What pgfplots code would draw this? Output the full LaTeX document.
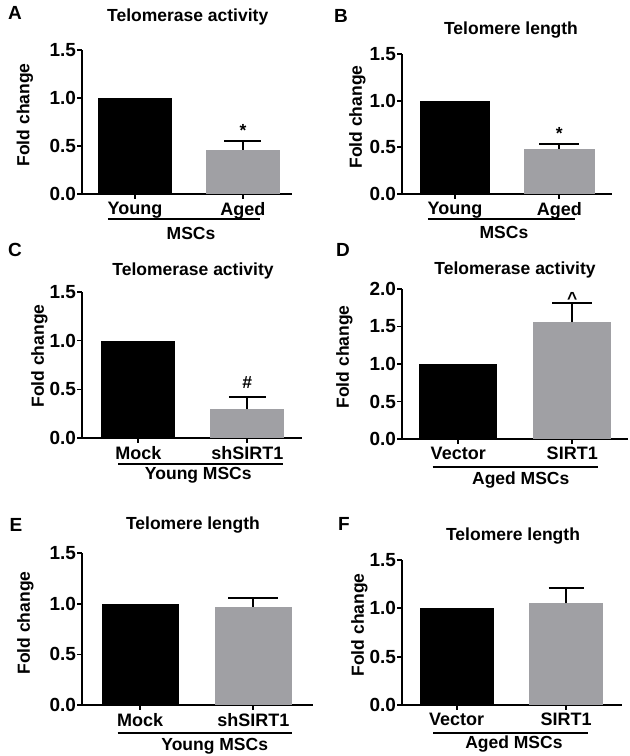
\documentclass[border=0pt]{standalone}
\usepackage{fontspec}
\setmainfont{Liberation Sans}
\usepackage{pgfplots}
\pgfplotsset{compat=1.18}
\definecolor{gbar}{RGB}{160,160,164}
\newcommand{\tf}{\bfseries\fontsize{17.5}{20}\selectfont}
\newcommand{\nf}{\bfseries\fontsize{19}{22}\selectfont}
\newcommand{\cf}{\bfseries\fontsize{18}{21}\selectfont}
\newcommand{\lf}{\bfseries\fontsize{19}{22}\selectfont}
\pgfplotsset{
  every axis title/.style={font=\tf, anchor=center},
  panel/.style={
    scale only axis, clip=false, anchor=south west,
    axis x line*=bottom, axis y line*=left,
    axis line style={line width=1.8pt, black},
    major tick style={line width=1.8pt, black},
    major tick length=4.5pt, tick align=outside,
    xtick={0,1}, ymin=0,
    /pgf/number format/assume math mode=true,
    yticklabel style={/pgf/number format/fixed, /pgf/number format/fixed zerofill, /pgf/number format/precision=1, font=\nf, inner sep=1pt},
    xticklabel style={font=\cf},
    ylabel style={font=\tf, anchor=center},
    xlabel style={font=\tf, anchor=center},
    bar width=0.68,
  },
  blackbar/.style={ybar, fill=black, draw=none},
  graybar/.style={ybar, fill=gbar, draw=none, error bars/.cd, y dir=plus, y explicit,
    error bar style={line width=1.8pt, black},
    error mark options={rotate=90, mark size=#1, line width=1.8pt, black}},
}
\begin{document}
\begin{tikzpicture}
\path[use as bounding box] (0,0) rectangle (630pt,-756pt);
% Panel A
\begin{axis}[panel, at={(81.7pt,-194pt)}, width=210pt, height=144pt,
  xmin=-0.493, xmax=1.451, ymax=1.5, ytick={0,0.5,1,1.5}, xticklabels={Young,Aged},
  title={Telomerase activity}, title style={at={(0.5048,1.229)}},
  ylabel={Fold change}, ylabel style={at={(-0.27,0.549)}},
  xlabel={MSCs}, xlabel style={at={(0.5205,-0.271)}}]
\addplot[blackbar] coordinates {(0,1)};
\addplot[graybar=18.5pt] coordinates {(1,0.46) +- (0,0.092)};
\draw[line width=1.8pt] (axis description cs:0.125,-0.1757) -- (axis description cs:0.849,-0.1757);
\node[font=\tf, anchor=base] at (axis cs:1,0.594) {*};
\end{axis}
% Panel B
\begin{axis}[panel, at={(401.7pt,-194pt)}, width=210pt, height=140pt,
  xmin=-0.511, xmax=1.502, ymax=1.5, ytick={0,0.5,1,1.5}, xticklabels={Young,Aged},
  title={Telomere length}, title style={at={(0.5205,1.171)}},
  ylabel={Fold change}, ylabel style={at={(-0.2105,0.55)}},
  xlabel={MSCs}, xlabel style={at={(0.487,-0.275)}}]
\addplot[blackbar] coordinates {(0,1)};
\addplot[graybar=20pt] coordinates {(1,0.482) +- (0,0.05)};
\draw[line width=1.8pt] (axis description cs:0.125,-0.1807) -- (axis description cs:0.825,-0.1807);
\node[font=\tf, anchor=base] at (axis cs:1,0.579) {*};
\end{axis}
% Panel C
\begin{axis}[panel, at={(81.7pt,-438.3pt)}, width=220pt, height=146.6pt,
  xmin=-0.519, xmax=1.499, ymax=1.5, ytick={0,0.5,1,1.5}, xticklabels={Mock,shSIRT1},
  title={Telomerase activity}, title style={at={(0.506,1.141)}},
  ylabel={Fold change}, ylabel style={at={(-0.192,0.561)}},
  xlabel={Young MSCs}, xlabel style={at={(0.53,-0.252)}}]
\addplot[blackbar] coordinates {(0,1)};
\addplot[graybar=18.5pt] coordinates {(1,0.297) +- (0,0.122)};
\draw[line width=1.8pt] (axis description cs:0.166,-0.1774) -- (axis description cs:0.916,-0.1774);
\node[font=\tf, anchor=base] at (axis cs:1,0.511) {\#};
\end{axis}
% Panel D
\begin{axis}[panel, at={(401.7pt,-439pt)}, width=226.3pt, height=150pt,
  xmin=-0.496, xmax=1.489, ymax=2, ytick={0,0.5,1,1.5,2}, xticklabels={Vector,SIRT1},
  title={Telomerase activity}, title style={at={(0.5007,1.13)}},
  ylabel={Fold change}, ylabel style={at={(-0.2528,0.547)}},
  xlabel={Aged MSCs}, xlabel style={at={(0.526,-0.273)}}]
\addplot[blackbar] coordinates {(0,1)};
\addplot[graybar=20pt] coordinates {(1,1.556) +- (0,0.254)};
\draw[line width=1.8pt] (axis description cs:0.137,-0.1847) -- (axis description cs:0.869,-0.1847);
\node[font=\tf, anchor=base] at (axis cs:1,1.80) {\textasciicircum};
\end{axis}
% Panel E
\begin{axis}[panel, at={(81.7pt,-705pt)}, width=231.3pt, height=151.7pt,
  xmin=-0.515, xmax=1.527, ymax=1.5, ytick={0,0.5,1,1.5}, xticklabels={Mock,shSIRT1},
  title={Telomere length}, title style={at={(0.481,1.187)}},
  ylabel={Fold change}, ylabel style={at={(-0.243,0.5405)}},
  xlabel={Young MSCs}, xlabel style={at={(0.575,-0.2736)}}]
\addplot[blackbar] coordinates {(0,1)};
\addplot[graybar=25pt] coordinates {(1,0.972) +- (0,0.083)};
\draw[line width=1.8pt] (axis description cs:0.1556,-0.1826) -- (axis description cs:0.908,-0.1826);
\end{axis}
% Panel F
\begin{axis}[panel, at={(401.7pt,-705pt)}, width=220pt, height=145pt,
  xmin=-0.503, xmax=1.509, ymax=1.5, ytick={0,0.5,1,1.5}, xticklabels={Vector,SIRT1},
  title={Telomere length}, title style={at={(0.506,1.1655)}},
  ylabel={Fold change}, ylabel style={at={(-0.192,0.552)}},
  xlabel={Aged MSCs}, xlabel style={at={(0.51,-0.269)}}]
\addplot[blackbar] coordinates {(0,1)};
\addplot[graybar=17.5pt] coordinates {(1,1.052) +- (0,0.155)};
\draw[line width=1.8pt] (axis description cs:0.1436,-0.191) -- (axis description cs:0.848,-0.191);
\end{axis}
\node[font=\lf] at (15pt,-13pt) {A};
\node[font=\lf] at (341pt,-16pt) {B};
\node[font=\lf] at (15pt,-250pt) {C};
\node[font=\lf] at (343pt,-250pt) {D};
\node[font=\lf] at (16pt,-525pt) {E};
\node[font=\lf] at (344pt,-524pt) {F};
\end{tikzpicture}
\end{document}
